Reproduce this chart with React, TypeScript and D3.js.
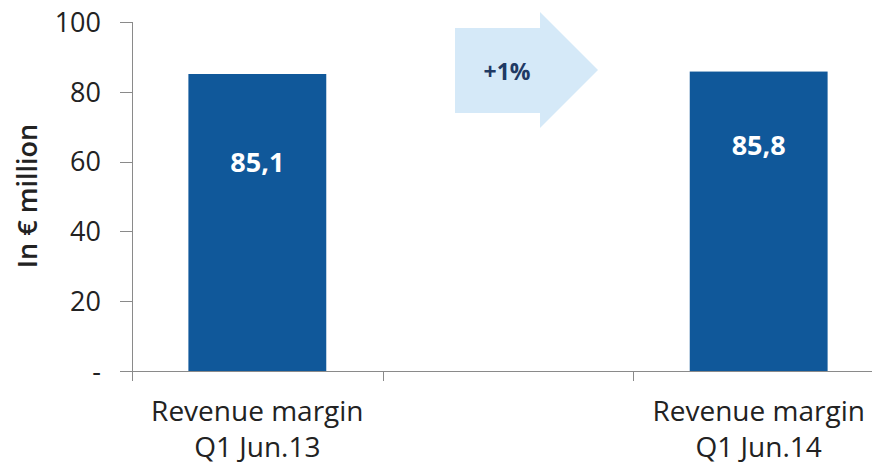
import React from "react";
import * as d3 from "d3";

const categories = ["Revenue margin|Q1 Jun.13", "gap", "Revenue margin|Q1 Jun.14"];
const values: (number | null)[] = [85.1, null, 85.8];
const valueLabels = ["85,1", "", "85,8"];
const yTicks = [0, 20, 40, 60, 80, 100];
const yTickLabels = ["-", "20", "40", "60", "80", "100"];
const changeLabel = "+1%";
const yTitle = "In € million";

const W = 872;
const H = 467;
const FONT = "'Open Sans', sans-serif";

export default function App() {
  const x = d3.scaleBand<string>().domain(categories).range([132, 884]).padding(0);
  const y = d3.scaleLinear().domain([0, 100]).range([371, 22]);
  const bw = x.bandwidth() * 0.55;
  const labelOffsets = [88, 0, 74];
  const midC = (x(categories[1]) as number) + x.bandwidth() / 2;

  return (
    <svg
      width={W}
      height={H}
      style={{ position: "absolute", left: 0, top: 0, background: "#fff" }}
      fontFamily={FONT}
    >
      {/* y axis */}
      <line x1={132.5} x2={132.5} y1={y(100)} y2={379} stroke="#8a8a8a" strokeWidth={1} />
      {yTicks.map((t, i) => (
        <g key={t}>
          <line x1={120} x2={132} y1={Math.round(y(t)) + 0.5} y2={Math.round(y(t)) + 0.5} stroke="#8a8a8a" />
          <text x={101} y={y(t)} dy="0.36em" textAnchor="end" fontSize={27} fill="#222">
            {yTickLabels[i]}
          </text>
        </g>
      ))}
      <text
        transform={`translate(27,${196}) rotate(-90)`}
        textAnchor="middle"
        dy="0.36em"
        fontSize={27}
        fontWeight={600}
        fill="#222"
      >
        {yTitle}
      </text>

      {/* bars */}
      {categories.map((c, i) => {
        const v = values[i];
        if (v == null) return null;
        const cx = (x(c) as number) + x.bandwidth() / 2;
        return (
          <g key={c}>
            <rect x={cx - bw / 2} y={y(v)} width={bw} height={y(0) - y(v)} fill="#10589A" />
            <text
              x={cx}
              y={y(v) + labelOffsets[i]}
              dy="0.36em"
              textAnchor="middle"
              fontSize={27}
              fontWeight={700}
              fill="#fff"
            >
              {valueLabels[i]}
            </text>
          </g>
        );
      })}

      {/* x axis */}
      <line x1={120} x2={W} y1={371.5} y2={371.5} stroke="#8a8a8a" />
      {categories.map((c) => (
        <line
          key={"t" + c}
          x1={Math.round(x(c) as number) + 0.5}
          x2={Math.round(x(c) as number) + 0.5}
          y1={371}
          y2={381}
          stroke="#8a8a8a"
        />
      ))}
      {categories.map((c) => {
        if (c === "gap") return null;
        const cx = (x(c) as number) + x.bandwidth() / 2;
        const lines = c.split("|");
        return (
          <text key={"l" + c} x={cx} textAnchor="middle" fontSize={28} fill="#222">
            {lines.map((l, j) => (
              <tspan key={j} x={cx} y={421 + j * 36}>
                {l}
              </tspan>
            ))}
          </text>
        );
      })}

      {/* arrow */}
      <path
        d={`M${midC - 53},28 L${midC + 32},28 L${midC + 32},12 L${midC + 90},70 L${midC + 32},128 L${midC + 32},113 L${midC - 53},113 Z`}
        fill="#D5E9F8"
      />
      <text x={midC - 1} y={71.5} dy="0.36em" textAnchor="middle" fontSize={23} fontWeight={700} fill="#1F3A64">
        {changeLabel}
      </text>
    </svg>
  );
}
